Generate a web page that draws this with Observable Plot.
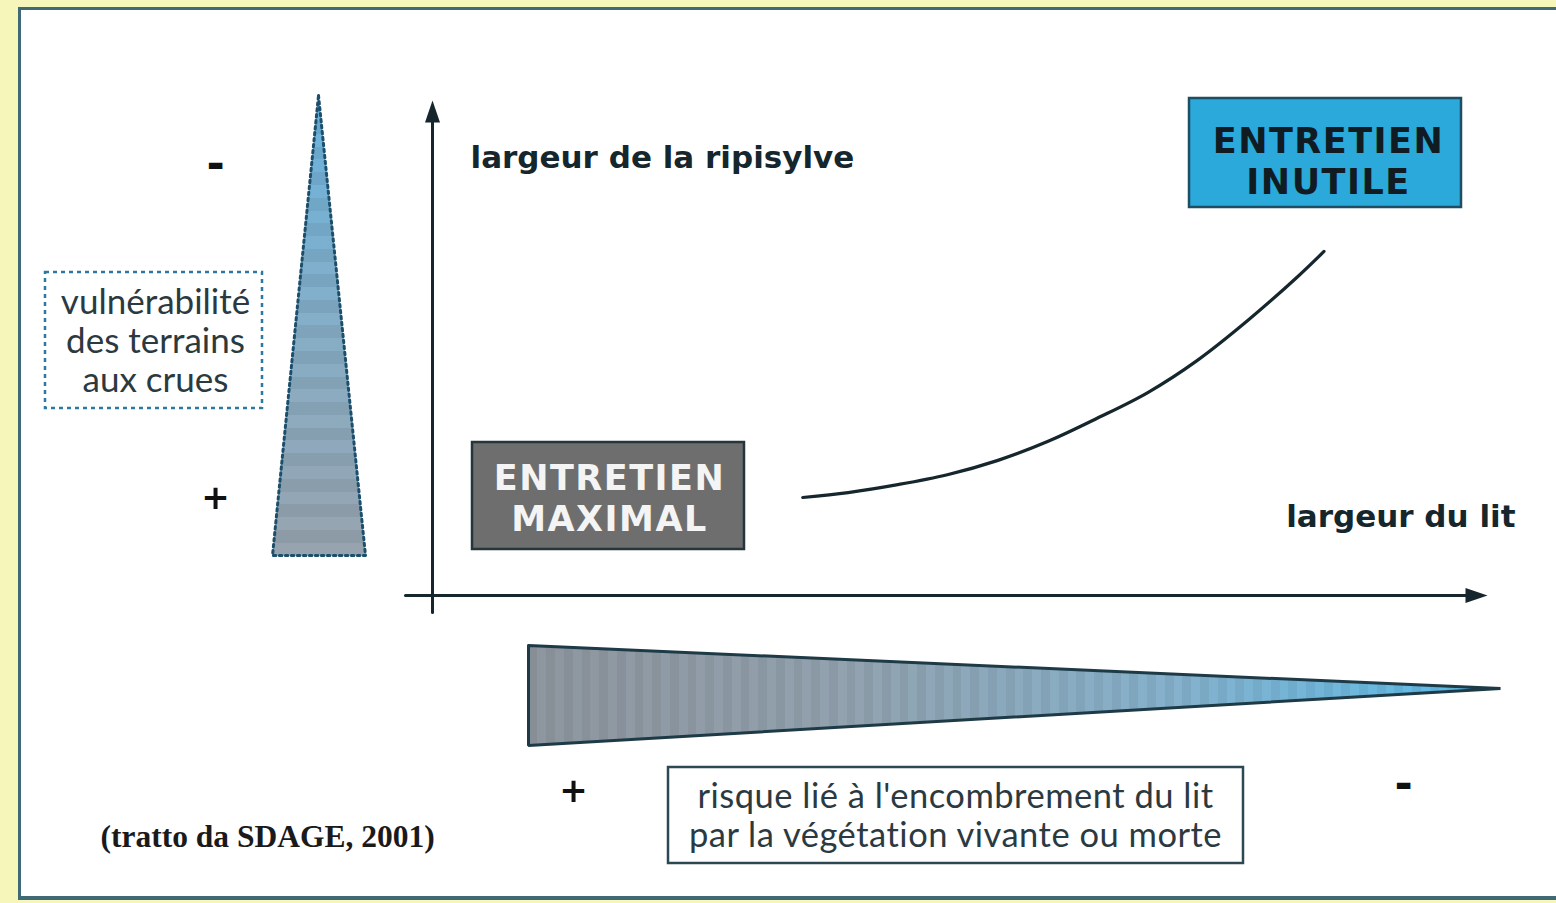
<!DOCTYPE html>
<html><head><meta charset="utf-8">
<script src="https://cdn.jsdelivr.net/npm/d3@7"></script>
<script src="https://cdn.jsdelivr.net/npm/@observablehq/plot@0.6"></script>
<style>
html,body{margin:0;padding:0;background:#f6f5ba;width:1556px;height:903px;overflow:hidden}
#frame{position:absolute;left:18px;top:7px;width:1560px;height:886px;background:#fff;border-top:3px solid #3f6974;border-left:3px solid #3f6974;border-bottom:4px solid #3f6974}
#chart{position:absolute;left:0;top:0}
</style></head><body><div id="frame"></div><div id="chart"></div>
<script>
// ---- data (axis units: 0 = origin, 100 = arrow tip) ----
const curveLit   = [35.1, 39.4, 44.1, 48.8, 53.6, 58.3, 63.0, 67.8, 72.5, 77.3, 82.0, 84.5]; // largeur du lit
const curveRipi  = [19.8, 20.8, 22.4, 24.4, 27.3, 31.1, 35.8, 41.0, 47.5, 55.6, 64.4, 69.5]; // largeur de la ripisylve
const axisLabels = ["largeur de la ripisylve", "largeur du lit"];
const boxLabels  = ["ENTRETIEN\nMAXIMAL", "ENTRETIEN\nINUTILE"];
const vulnLabel  = "vulnérabilité\ndes terrains\naux crues";
const risqueLabel = "risque lié à l'encombrement du lit\npar la végétation vivante ou morte";
const signsVuln  = ["-", "+"];
const signsRisque = ["+", "-"];
const sourceLabel = "(tratto da SDAGE, 2001)";

const curve = curveLit.map((x, i) => ({x, y: curveRipi[i]}));

// layout helpers: convert picture position to axis units
const X = px => (px - 432) / 10.55;
const Y = py => (595 - py) / 4.95;
const P = (px, py) => [X(px), Y(py)];

const dark = "#15262d";
const heavy = "DejaVu Sans";
const light = "Lato";

const plot = Plot.plot({
  width: 1556, height: 903, margin: 0,
  x: {domain: [0, 100], range: [432, 1487], axis: null},
  y: {domain: [0, 100], range: [595, 100], axis: null},
  style: {background: "transparent", overflow: "visible"},
  marks: [
    // left vulnerability triangle
    Plot.line([P(318, 95), P(365, 555), P(272, 555), P(318, 95)], {fill: "url(#gradV)", stroke: "#1c4f6c", strokeWidth: 3, strokeDasharray: "2.5,3.5"}),
    // bottom risk triangle
    Plot.line([P(528, 645), P(1500, 688), P(528, 745), P(528, 645)], {fill: "url(#gradH)", stroke: "#1d3a46", strokeWidth: 3, strokeLinejoin: "miter"}),
    // axes
    Plot.line([P(405, 595), P(1470, 595)], {stroke: dark, strokeWidth: 3}),
    Plot.line([P(432, 612), P(432, 118)], {stroke: dark, strokeWidth: 3}),
    Plot.line([P(1487, 595), P(1465, 587.5), P(1465, 602.5)], {fill: dark, stroke: "none"}),
    Plot.line([P(432, 100), P(424.5, 122), P(439.5, 122)], {fill: dark, stroke: "none"}),
    // curve
    Plot.line(curve, {x: "x", y: "y", curve: "catmull-rom", stroke: dark, strokeWidth: 3.2}),
    // boxes
    Plot.rect([0], {x1: X(472), x2: X(744), y1: Y(549), y2: Y(442), fill: "#6e6e6e", stroke: "#26353b", strokeWidth: 2.5}),
    Plot.rect([0], {x1: X(1189), x2: X(1461), y1: Y(207), y2: Y(98), fill: "#2aa9da", stroke: "#1d4e63", strokeWidth: 2.5}),
    Plot.rect([0], {x1: X(45), x2: X(262), y1: Y(408), y2: Y(272), fill: "none", stroke: "#2d7aa0", strokeWidth: 2.5, strokeDasharray: "4,4"}),
    Plot.rect([0], {x1: X(668), x2: X(1243), y1: Y(863), y2: Y(767), fill: "#fff", stroke: "#2b4853", strokeWidth: 2.5}),
    // texts
    Plot.text([axisLabels[0]], {x: X(470), y: Y(158), text: d => d, textAnchor: "start", fontFamily: heavy, fontWeight: "bold", fontSize: 31, fill: dark}),
    Plot.text([axisLabels[1]], {x: X(1515), y: Y(517), text: d => d, textAnchor: "end", fontFamily: heavy, fontWeight: "bold", fontSize: 31, fill: dark}),
    Plot.text([boxLabels[0]], {x: X(609), y: Y(497), text: d => d, fontFamily: heavy, fontWeight: "bold", fontSize: 35, lineHeight: 1.15, fill: "#f4f4f4"}),
    Plot.text([boxLabels[1]], {x: X(1328), y: Y(160), text: d => d, fontFamily: heavy, fontWeight: "bold", fontSize: 35, lineHeight: 1.15, fill: "#101c22"}),
    Plot.text([vulnLabel], {x: X(155), y: Y(340), text: d => d, fontFamily: light, fontSize: 35, lineHeight: 1.11, fill: "#2b3a41"}),
    Plot.text([risqueLabel], {x: X(955), y: Y(815), text: d => d, fontFamily: light, fontSize: 34.5, lineHeight: 1.13, fill: "#2b3a41"}),
    Plot.text(signsVuln, {x: X(215), y: (d, i) => [Y(164), Y(498)][i], text: d => d, fontFamily: heavy, fontWeight: "bold", fontSize: (d, i) => [44, 34][i], fill: "#111"}),
    Plot.text(signsRisque, {x: (d, i) => [X(573), X(1403)][i], y: (d, i) => [Y(791), Y(784)][i], text: d => d, fontFamily: heavy, fontWeight: "bold", fontSize: (d, i) => [34, 44][i], fill: "#111"}),
    Plot.text([sourceLabel], {x: X(100), y: Y(836), text: d => d, textAnchor: "start", fontFamily: "Liberation Serif", fontWeight: "bold", fontSize: 31.5, fill: "#1a1a1a"})
  ]
});

// letter spacing tweaks (wide Gill-Sans-like caps)
d3.select(plot).selectAll("text").each(function() {
  const t = this.textContent;
  if (t.startsWith("ENTRETIEN")) this.setAttribute("letter-spacing", "1.5");
  else if (t.startsWith("risque")) this.setAttribute("letter-spacing", "0.5");
});

// gradients with faint stripes
const defs = d3.select(plot).insert("defs", ":first-child");
function striped(id, horizontal, colors, n, amt) {
  const g = defs.append("linearGradient").attr("id", id)
    .attr("x1", 0).attr("y1", 0).attr("x2", horizontal ? 1 : 0).attr("y2", horizontal ? 0 : 1);
  const ip = d3.piecewise(d3.interpolateRgb, colors);
  for (let i = 0; i < n; i++) {
    const t0 = i / n, t1 = (i + 1) / n;
    const base = d3.color(ip((t0 + t1) / 2));
    const col = i % 2 ? base.brighter(amt) : base;
    g.append("stop").attr("offset", t0).attr("stop-color", col.formatHex());
    g.append("stop").attr("offset", t1).attr("stop-color", col.formatHex());
  }
}
striped("gradV", false, ["#63a8d0", "#7ea3bb", "#8e9aa4"], 36, 0.18);
striped("gradH", true, ["#878e96", "#8a9aa6", "#7ea8c2", "#55b2de"], 110, 0.15);

document.getElementById("chart").append(plot);
</script></body></html>
